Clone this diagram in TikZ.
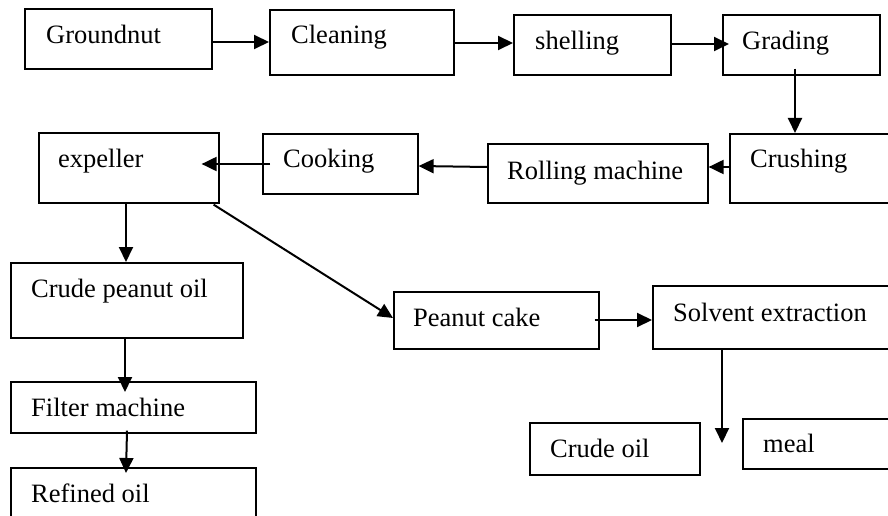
\documentclass[tikz,border=0pt]{standalone}
\usepackage{fontspec}
\setmainfont{Liberation Serif}
\usetikzlibrary{arrows.meta,calc}
\begin{document}
\begin{tikzpicture}[x=1pt,y=-1pt,
  box/.style={draw=black,line width=1.6pt,inner sep=0pt,anchor=north west},
  lbl/.style={inner sep=0pt,anchor=base west,font=\fontsize{26.5}{30}\selectfont},
  arr/.style={line width=2pt,-{Triangle[length=15pt,width=14pt]}}]
\useasboundingbox (0,0) rectangle (888,516);
\fill[white] (0,0) rectangle (888,516);
\begin{scope}
\clip (0,0) rectangle (888,516);
% boxes
\node[box,minimum width=187pt,minimum height=60pt] (ground) at (24,8) {};
\node[box,minimum width=184pt,minimum height=65pt] (clean) at (269,9) {};
\node[box,minimum width=157pt,minimum height=60pt] (shell) at (513,14) {};
\node[box,minimum width=157pt,minimum height=60pt] (grade) at (722,14) {};
\node[box,minimum width=175pt,minimum height=69pt] (crush) at (729,133) {};
\node[box,minimum width=220pt,minimum height=59pt] (roll) at (487,143) {};
\node[box,minimum width=155pt,minimum height=60pt] (cook) at (262,133) {};
\node[box,minimum width=180pt,minimum height=70pt] (expel) at (38,132) {};
\node[box,minimum width=232pt,minimum height=75pt] (crudepo) at (10,262) {};
\node[box,minimum width=245pt,minimum height=51pt] (filter) at (10,381) {};
\node[box,minimum width=245pt,minimum height=70pt] (refined) at (10,467) {};
\node[box,minimum width=205pt,minimum height=57pt] (cake) at (393,291) {};
\node[box,minimum width=250pt,minimum height=63pt] (solvent) at (652,285) {};
\node[box,minimum width=170pt,minimum height=52pt] (crudeoil) at (529,422) {};
\node[box,minimum width=160pt,minimum height=50pt] (meal) at (742,418) {};
% labels
\node[lbl] (tground) at (46,44) {Groundnut};
\node[lbl] (tclean) at (291,44) {Cleaning};
\node[lbl] (tshell) at (535,50) {shelling};
\node[lbl] (tgrade) at (742,50) {Grading};
\node[lbl] (tcrush) at (750,167) {Crushing};
\node[lbl] (troll) at (507,179) {Rolling machine};
\node[lbl] (tcook) at (283,167) {Cooking};
\node[lbl] (texpel) at (58,167) {expeller};
\node[lbl] (tcrudepo) at (31,297) {Crude peanut oil};
\node[lbl] (tfilter) at (31,416) {Filter machine};
\node[lbl] (trefined) at (31,502) {Refined oil};
\node[lbl] (tcake) at (413,326) {Peanut cake};
\node[lbl] (tsolvent) at (673,321) {Solvent extraction};
\node[lbl] (tcrudeoil) at (550,457) {Crude oil};
\node[lbl] (tmeal) at (763,452) {meal};
% connectors
\draw[arr] (ground.east |- 0,42) -- (clean.west |- 0,42);
\draw[arr] (clean.east |- 0,43) -- (shell.west |- 0,43);
\draw[arr] (shell.east |- 0,44) -- ($(grade.west |- 0,44)+(7,0)$);
\draw[arr] ($(795,0 |- grade.south)+(0,-7)$) -- (795,0 |- crush.north);
\draw[arr] (crush.west |- 0,167) -- (roll.east |- 0,167);
\draw[arr] (roll.west |- 0,167) -- (cook.east |- 0,166);
\draw[arr] ($(cook.west |- 0,164)+(8,0)$) -- ($(expel.east |- 0,164)+(-18,0)$);
\draw[arr] (126,0 |- expel.south) -- (126,0 |- crudepo.north);
\draw[arr] ($(expel.south east)+(-6,1)$) -- (cake.west |- 0,318);
\draw[arr] (125,0 |- crudepo.south) -- ($(125,0 |- filter.north)+(0,11)$);
\draw[arr] ($(127,0 |- filter.south)+(0,-3)$) -- ($(126,0 |- refined.north)+(0,6)$);
\draw[arr] ($(cake.east |- 0,320)+(-5,0)$) -- (solvent.west |- 0,320);
\coordinate (solvout) at (722,443);
\draw[arr] (722,0 |- solvent.south) -- (solvout);
\end{scope}
\end{tikzpicture}
\end{document}
